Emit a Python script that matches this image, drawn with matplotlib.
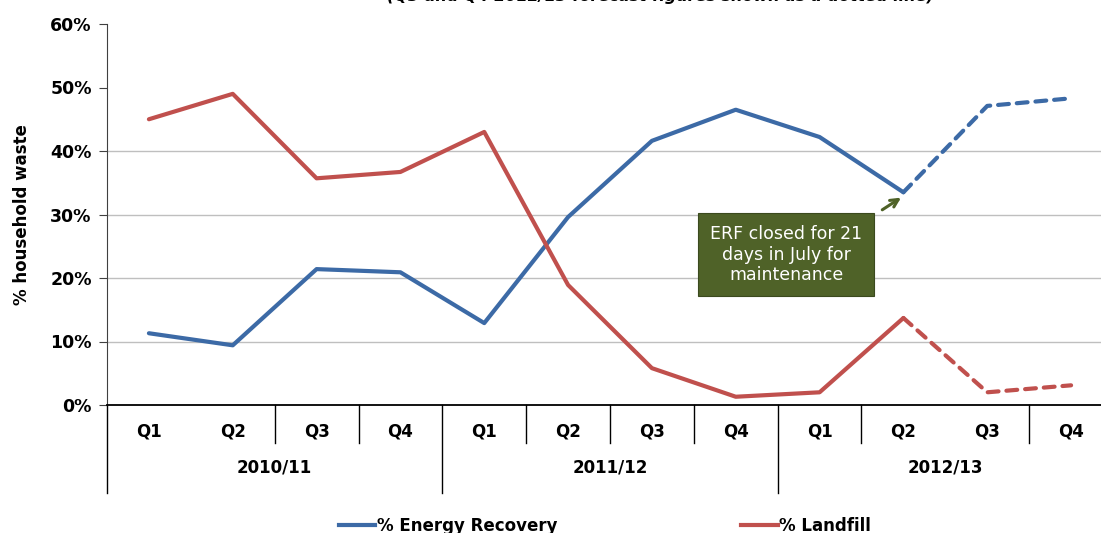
import matplotlib
matplotlib.use("Agg")
import matplotlib.pyplot as plt
from matplotlib.lines import Line2D

# Quarterly share of household waste by disposal route
years = ["2010/11", "2011/12", "2012/13"]
quarters = ["Q1", "Q2", "Q3", "Q4"]
energy_recovery = [11.3, 9.4, 21.4, 20.9, 12.9, 29.6, 41.6, 46.5, 42.2, 33.5, 47.1, 48.3]
landfill = [45.0, 49.0, 35.7, 36.7, 43.0, 18.9, 5.8, 1.3, 2.0, 13.7, 2.0, 3.1]
n_actual = 10  # last two quarters are forecasts
y_ticks = [0, 10, 20, 30, 40, 50, 60]
grid_levels = [10, 20, 30, 40]

BLUE = "#3C6AA6"
RED = "#C0504D"
GREEN = "#4F6228"
FONT = "DejaVu Sans"
plt.rcParams["font.family"] = FONT

W, H = 1101, 533
fig = plt.figure(figsize=(W / 100, H / 100), dpi=100)
ax = fig.add_axes([107 / W, 1 - 405 / H, (1113 - 107) / W, (405 - 24) / H])

x = list(range(len(energy_recovery)))
lw = 3.0
for series, color in [(energy_recovery, BLUE), (landfill, RED)]:
    ax.plot(x[:n_actual], series[:n_actual], color=color, lw=lw,
            solid_capstyle="round", solid_joinstyle="round", zorder=3)
    ax.plot(x[n_actual - 1:], series[n_actual - 1:], color=color, lw=lw,
            dashes=(2.6, 1.9), dash_capstyle="round", zorder=3)

ax.set_xlim(-0.5, len(x) - 0.5)
ax.set_ylim(0, 60)
ax.set_yticks(y_ticks)
ax.set_yticklabels([f"{v}%" for v in y_ticks], fontsize=12.5, fontweight="bold")
for g in grid_levels:
    ax.axhline(g, color="#BFBFBF", lw=1.0, zorder=1)

for s in ["top", "right"]:
    ax.spines[s].set_visible(False)
ax.spines["left"].set_color("#404040")
ax.spines["bottom"].set_color("black")
ax.spines["bottom"].set_linewidth(1.3)
ax.tick_params(axis="y", direction="out", length=6, color="#404040", pad=5)
ax.set_xticks([])

ax.set_ylabel("% household waste", fontsize=12, fontweight="bold", labelpad=14)

# Two-level category axis
trans = ax.get_xaxis_transform()
skip = {1, 10}
for b in range(len(x) + 1):
    if b in skip:
        continue
    bottom = -0.23 if b % 4 == 0 else -0.10
    ax.plot([b - 0.5, b - 0.5], [0, bottom], transform=trans, color="black",
            lw=1.0, clip_on=False)
for i in x:
    ax.text(i, -0.07, quarters[i % 4], transform=trans, ha="center", va="center",
            fontsize=12, fontweight="bold")
for k, yr in enumerate(years):
    ax.text(4 * k + 1.5, -0.165, yr, transform=trans, ha="center", va="center",
            fontsize=12, fontweight="bold")

# Maintenance note
ax.annotate("", xy=(9.0, 32.9), xytext=(8.72, 30.5),
            arrowprops=dict(arrowstyle="->", color=GREEN, lw=2.2,
                            mutation_scale=14), zorder=4)
ax.text(7.6, 23.7, "ERF closed for 21\ndays in July for\nmaintenance",
        ha="center", va="center", color="white", fontsize=12.5,
        linespacing=1.15,
        bbox=dict(boxstyle="square,pad=0.7", fc=GREEN, ec="#3B4A1E", lw=0.8),
        zorder=5)

fig.text(660 / W, 1 + 3 / H,
         "(Q3 and Q4 2012/13 forecast figures shown as a dotted line)",
         ha="center", va="center", fontsize=11.5, fontweight="bold", style="italic")

handles = [Line2D([], [], color=BLUE, lw=lw), Line2D([], [], color=RED, lw=lw)]
fig.legend(handles, ["% Energy Recovery", "% Landfill"], loc="center",
           bbox_to_anchor=(605 / W, 1 - 526 / H), ncol=2, frameon=False,
           handlelength=2.2, handletextpad=0.1, columnspacing=11,
           prop={"family": FONT, "size": 12, "weight": "bold"})

fig.savefig("out.png", dpi=100)
